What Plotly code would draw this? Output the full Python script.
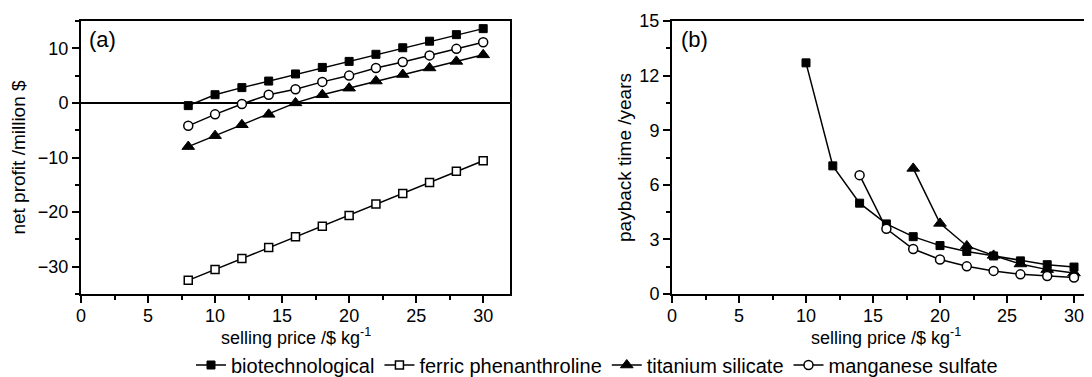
import plotly.graph_objects as go

# ---- data ----
price_a = [8, 10, 12, 14, 16, 18, 20, 22, 24, 26, 28, 30]
profit_bio = [-0.5, 1.5, 2.8, 4.0, 5.3, 6.5, 7.6, 8.9, 10.1, 11.3, 12.5, 13.6]
profit_ferric = [-32.5, -30.5, -28.5, -26.5, -24.5, -22.6, -20.6, -18.5, -16.6, -14.6, -12.5, -10.6]
profit_ti = [-8.0, -6.0, -4.0, -2.1, 0.0, 1.5, 2.7, 4.0, 5.2, 6.4, 7.6, 8.8]
profit_mn = [-4.2, -2.1, -0.2, 1.5, 2.5, 3.85, 5.0, 6.4, 7.5, 8.7, 9.9, 11.1]

price_b_bio = [10, 12, 14, 16, 18, 20, 22, 24, 26, 28, 30]
payback_bio = [12.7, 7.04, 4.99, 3.85, 3.15, 2.66, 2.34, 2.09, 1.82, 1.61, 1.48]
price_b_ti = [18, 20, 22, 24, 26, 28, 30]
payback_ti = [6.9, 3.88, 2.64, 2.12, 1.65, 1.34, 1.15]
price_b_mn = [14, 16, 18, 20, 22, 24, 26, 28, 30]
payback_mn = [6.53, 3.58, 2.47, 1.9, 1.52, 1.27, 1.08, 0.99, 0.9]

series_names = ["biotechnological", "ferric phenanthroline", "titanium silicate", "manganese sulfate"]
x_ticks = [0, 5, 10, 15, 20, 25, 30]
x_minor = [2.5, 7.5, 12.5, 17.5, 22.5, 27.5]
x_title = "selling price /$ kg<sup>-1</sup>"

FONT = "Arial, Liberation Sans, sans-serif"
PAGE = 8                     # browser page (body) margin
OFFX, OFFY = 8, 4
W, H = 1092 - OFFX, 377 - OFFY
T = 17 - OFFY
BOT = 290 - OFFY
B = H - BOT
PH = H - T - B

marker_styles = {
    "biotechnological": dict(symbol="square", size=8, color="black", line=dict(color="black", width=1)),
    "ferric phenanthroline": dict(symbol="square", size=8, color="white", line=dict(color="black", width=1.5)),
    "titanium silicate": dict(symbol="triangle-up", size=11, color="black", line=dict(color="black", width=1)),
    "manganese sulfate": dict(symbol="circle", size=9, color="white", line=dict(color="black", width=1.5)),
}

fig = go.Figure()

def add(x, y, name, xa, ya, show):
    fig.add_trace(go.Scatter(
        x=x, y=y, name=name, mode="lines+markers",
        line=dict(color="black", width=1.5),
        marker=marker_styles[name],
        xaxis=xa, yaxis=ya, showlegend=show, legendgroup=name,
    ))

add(price_a, profit_bio, series_names[0], "x", "y", True)
add(price_a, profit_ferric, series_names[1], "x", "y", True)
add(price_a, profit_ti, series_names[2], "x", "y", True)
add(price_a, profit_mn, series_names[3], "x", "y", True)

add(price_b_bio, payback_bio, series_names[0], "x2", "y2", False)
add(price_b_ti, payback_ti, series_names[2], "x2", "y2", False)
add(price_b_mn, payback_mn, series_names[3], "x2", "y2", False)

axis_common = dict(
    showline=True, linecolor="black", linewidth=2,
    ticks="outside", ticklen=7, tickwidth=1.5, tickcolor="black",
    showgrid=False, zeroline=False, automargin=False,
    tickfont=dict(family=FONT, size=18, color="black"),
)
minor_common = dict(ticklen=4, tickwidth=1.5, tickcolor="black", ticks="outside", showgrid=False)

TF = dict(family=FONT, size=19, color="black")

ax_l, ax_r = 81 - OFFX, 510 - OFFX
bx_l = 672 - OFFX

fig.update_layout(
    width=W, height=H,
    margin=dict(l=0, r=0, t=T, b=B, autoexpand=False),
    paper_bgcolor="white", plot_bgcolor="white",
    font=dict(family=FONT, color="black"),
    xaxis=dict(**axis_common, domain=[ax_l / W, ax_r / W], range=[0, 32], anchor="y",
               tickmode="array", tickvals=x_ticks, mirror=True, ticklabelstandoff=-3,
               minor=dict(tickmode="array", tickvals=x_minor, **minor_common)),
    yaxis=dict(**axis_common, range=[-35, 15], anchor="x", mirror=True,
               tickmode="array", tickvals=[-30, -20, -10, 0, 10],
               minor=dict(tickmode="array", tickvals=[-35, -25, -15, -5, 5, 15], **minor_common),
               title=dict(text="net profit /million $", font=TF, standoff=15)),
    xaxis2=dict(**axis_common, domain=[bx_l / W, 1.0], range=[0, (W - bx_l) / 13.4], anchor="y2",
                tickmode="array", tickvals=x_ticks, mirror=True, ticklabelstandoff=-3,
                minor=dict(tickmode="array", tickvals=x_minor, **minor_common)),
    yaxis2=dict(**axis_common, range=[0, 15], anchor="x2",
                tickmode="array", tickvals=[0, 3, 6, 9, 12, 15],
                minor=dict(tickmode="array", tickvals=[1.5, 4.5, 7.5, 10.5, 13.5], **minor_common),
                title=dict(text="payback time /years", font=TF, standoff=3)),
    legend=dict(orientation="h", x=(597 - PAGE) / W, xanchor="center",
                y=(BOT - (365 - PAGE)) / PH, yanchor="middle",
                font=dict(family=FONT, size=20, color="black"), itemwidth=30,
                bgcolor="rgba(0,0,0,0)", tracegroupgap=0),
    showlegend=True,
)

# x-axis titles (placed as text under each panel)
title_y = (BOT - (336 - PAGE)) / PH
XTF = dict(family=FONT, size=18, color="black")
fig.add_annotation(text=x_title, xref="x domain", yref="paper", x=0.5, y=title_y,
                   xanchor="center", yanchor="middle", showarrow=False, font=XTF)
fig.add_annotation(text=x_title, xref="x2 domain", yref="paper",
                   x=(886 - PAGE - bx_l) / (W - bx_l), y=title_y,
                   xanchor="center", yanchor="middle", showarrow=False, font=XTF)

# zero reference line in panel (a)
fig.add_shape(type="line", xref="x domain", yref="y", x0=0, x1=1, y0=0, y1=0,
              line=dict(color="black", width=2), layer="below")

fig.add_annotation(text="(a)", xref="x domain", yref="y domain", x=0.014, y=0.985,
                   xanchor="left", yanchor="top", showarrow=False,
                   font=dict(family=FONT, size=22, color="black"))
fig.add_annotation(text="(b)", xref="x2 domain", yref="y2 domain", x=0.016, y=0.985,
                   xanchor="left", yanchor="top", showarrow=False,
                   font=dict(family=FONT, size=22, color="black"))

fig.write_html("out.html")
